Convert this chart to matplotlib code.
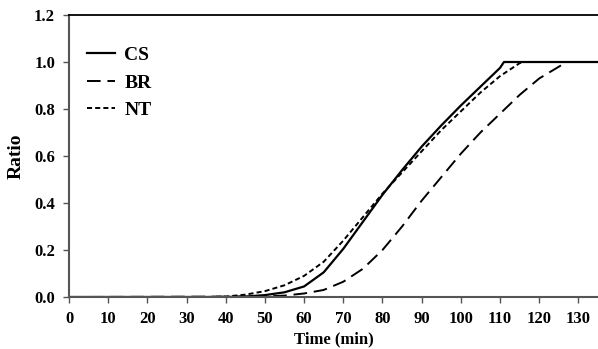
import matplotlib
matplotlib.use("Agg")
import matplotlib.pyplot as plt

plt.rcParams['font.family'] = ['Liberation Serif', 'DejaVu Serif']
plt.rcParams['font.weight'] = 'bold'

# time points (min) and ratio for each treatment
t_cs = [0, 40, 45, 50, 55, 60, 65, 70, 75, 80, 85, 90, 95, 100, 105, 110, 111, 135]
cs = [0, 0, 0.002, 0.008, 0.02, 0.045, 0.105, 0.205, 0.32, 0.435, 0.54, 0.64, 0.73, 0.815, 0.895, 0.975, 1.0, 1.0]

t_br = [0, 50, 55, 60, 65, 70, 75, 80, 85, 90, 95, 100, 105, 110, 115, 120, 125, 127, 135]
br = [0, 0.002, 0.006, 0.015, 0.03, 0.065, 0.12, 0.2, 0.3, 0.41, 0.51, 0.61, 0.7, 0.78, 0.86, 0.93, 0.98, 1.0, 1.0]

t_nt = [0, 35, 40, 45, 50, 55, 60, 65, 70, 75, 80, 85, 90, 95, 100, 105, 110, 115, 116, 135]
nt = [0, 0, 0.002, 0.01, 0.025, 0.05, 0.09, 0.15, 0.24, 0.34, 0.44, 0.53, 0.62, 0.71, 0.79, 0.87, 0.94, 0.995, 1.0, 1.0]

x_ticks = list(range(0, 131, 10))
y_ticks = [0.0, 0.2, 0.4, 0.6, 0.8, 1.0, 1.2]

fig = plt.figure(figsize=(5.98, 3.49), dpi=100)
ax = fig.add_axes([0.1154, 0.149, 0.8846, 0.808])

ax.plot(t_cs, cs, color='black', lw=1.6, linestyle='-', label='CS')
ax.plot(t_br, br, color='black', lw=1.4, dashes=(7, 3.5), label='BR')
ax.plot(t_nt, nt, color='black', lw=1.4, dashes=(2.6, 1.6), label='NT')

ax.set_xlim(0, 135)
ax.set_ylim(0, 1.2)
ax.set_xticks(x_ticks)
ax.set_yticks(y_ticks)
ax.set_yticklabels([f"{v:.1f}" for v in y_ticks])
ax.tick_params(axis='both', direction='out', length=4, width=1, colors='#555555',
               labelcolor='black', labelsize=12)
ax.tick_params(axis='x', pad=6)
ax.tick_params(axis='y', pad=6)

ax.spines['right'].set_visible(False)
ax.spines['top'].set_color('black')
ax.spines['top'].set_linewidth(1.3)
ax.spines['left'].set_color('#555555')
ax.spines['left'].set_linewidth(1.5)
ax.spines['bottom'].set_color('#555555')
ax.spines['bottom'].set_linewidth(1.5)

ax.set_xlabel('Time (min)', fontsize=12, fontweight='bold', labelpad=3)
ax.set_ylabel('Ratio', fontsize=14, fontweight='bold', labelpad=7)

leg = ax.legend(loc='upper left', bbox_to_anchor=(0.0, 0.95), frameon=False,
                fontsize=14, handlelength=1.45, handletextpad=0.5, labelspacing=0.5)

fig.savefig('out.png', dpi=100)
